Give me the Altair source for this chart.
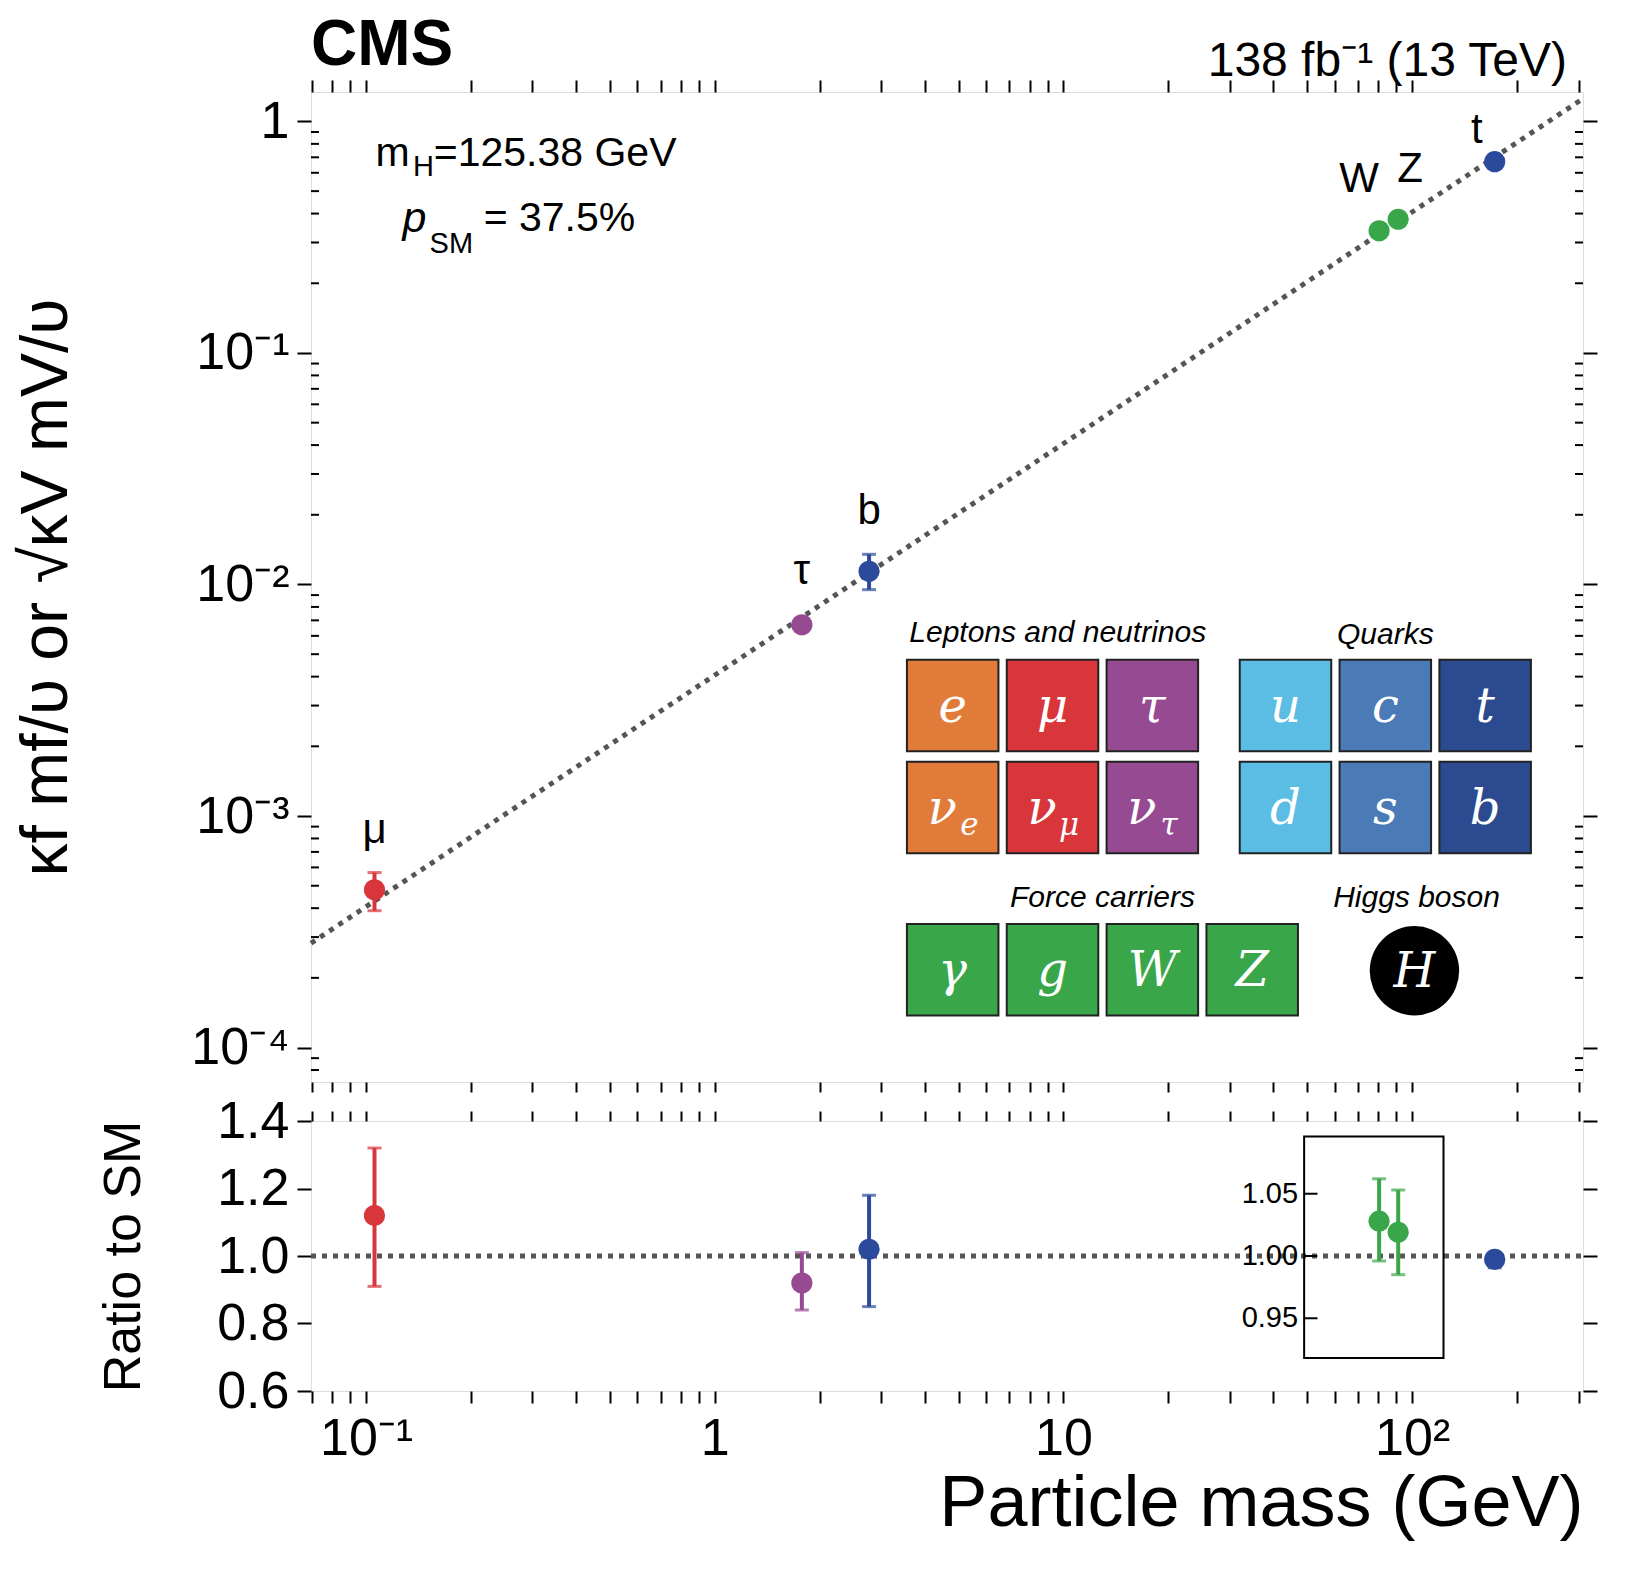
import altair as alt
import pandas as pd

V = 246.22
FONT = "Liberation Sans"
S = 1.04  # pixel scale factor for annotations

# measured points
names = ["μ", "τ", "b", "W", "Z", "t"]
mass = [0.1057, 1.777, 2.77, 80.4, 91.19, 172.5]
coupling = [4.8e-4, 6.7e-3, 0.0114, 0.337, 0.378, 0.67]
coup_lo = [3.9e-4, 6.4e-3, 0.0095, 0.332, 0.372, 0.655]
coup_hi = [5.7e-4, 7.0e-3, 0.0135, 0.343, 0.384, 0.685]
ratio = [1.12, 0.92, 1.02, 1.028, 1.019, 0.99]
ratio_lo = [0.91, 0.84, 0.85, 0.996, 0.985, 0.965]
ratio_hi = [1.32, 1.01, 1.18, 1.062, 1.053, 1.005]
inset = [False, False, False, True, True, False]
colors = ["#d8363a", "#954a91", "#2b4a9b", "#3aa64a", "#3aa64a", "#2b4a9b"]
label_dx = [0, 0, 0, -20, 12, -18]
label_dy = [-60, -54, -60, -52, -50, -32]

# SM line end points
line_mass = [0.0695, 309.0]

pts = pd.DataFrame(dict(name=names, m=mass, c=coupling, lo=coup_lo, hi=coup_hi,
                        r=ratio, rlo=ratio_lo, rhi=ratio_hi, inset=inset, col=colors))
# inset zoom: 1.00 +- 0.05 drawn over 0.185 of main ratio range
ZOOM = 3.69
pts["rp"] = [1 + (r - 1) * ZOOM if i else r for r, i in zip(pts.r, pts.inset)]
pts["rplo"] = [1 + (r - 1) * ZOOM if i else r for r, i in zip(pts.rlo, pts.inset)]
pts["rphi"] = [1 + (r - 1) * ZOOM if i else r for r, i in zip(pts.rhi, pts.inset)]

line = pd.DataFrame(dict(m=line_mass, c=[m / V for m in line_mass]))

xs = alt.Scale(type="log", domain=[0.0695, 309], nice=False)
ys = alt.Scale(type="log", domain=[7.1e-5, 1.34], nice=False)
rs = alt.Scale(domain=[0.6, 1.4], nice=False)

xlab = "datum.value==0.1?'10⁻¹':datum.value==1?'1':datum.value==10?'10':datum.value==100?'10²':''"
ylab = ("datum.value==1?'1':datum.value==0.1?'10⁻¹':datum.value==0.01?'10⁻²':"
        "datum.value==0.001?'10⁻³':datum.value==0.0001?'10⁻⁴':''")
xticks = [0.07, 0.08, 0.09, 0.1, 0.2, 0.3, 0.4, 0.5, 0.6, 0.7, 0.8, 0.9, 1, 2, 3, 4, 5, 6, 7, 8, 9,
          10, 20, 30, 40, 50, 60, 70, 80, 90, 100, 200, 300]
yticks = [1e-4, 1e-3, 1e-2, 1e-1, 1]
ymin = [k * 10.0 ** e for e in range(-5, 1) for k in range(2, 10) if 7.1e-5 < k * 10.0 ** e < 1.34]
rticks = [0.6, 0.8, 1.0, 1.2, 1.4]

W, H1, H2 = 1272, 990, 270
ax = dict(labelFont=FONT, titleFont=FONT, domain=False, tickColor="black", tickWidth=2,
          labelColor="black", titleColor="black", grid=False, titleFontWeight="normal")


def X(f, **k):
    return alt.X(f, axis=None, **k)


def Y(f, **k):
    return alt.Y(f, axis=None, **k)


C = alt.Color("col:N", scale=None)

# ---------------- top panel ----------------
base = alt.Chart(pts)
sm_line = alt.Chart(line).mark_line(color="#555", strokeWidth=5, strokeDash=[5, 6]).encode(
    x=alt.X("m:Q", scale=xs, axis=alt.Axis(values=xticks, labels=False, tickSize=10, **ax), title=None),
    y=alt.Y("c:Q", scale=ys, title="κf mf/υ  or  √κV mV/υ",
            axis=alt.Axis(values=yticks, labelExpr=ylab, labelFontSize=52, tickSize=14,
                          titleFontSize=66, titlePadding=110, labelPadding=8, **ax)))
top_mirror = alt.Chart(line).mark_point(opacity=0).encode(
    x=alt.X("m:Q", scale=xs, axis=alt.Axis(orient="top", values=xticks, labels=False, tickSize=12, **ax), title=None),
    y=alt.Y("c:Q", scale=ys, axis=alt.Axis(orient="right", values=yticks, labels=False, tickSize=14, **ax), title=None))
yminor = alt.Chart(pd.DataFrame(dict(v=ymin))).mark_rule(strokeWidth=2, color="black").encode(
    y=Y("v:Q", scale=ys), x=alt.value(0), x2=alt.value(8))
yminor_r = alt.Chart(pd.DataFrame(dict(v=ymin))).mark_rule(strokeWidth=2, color="black").encode(
    y=Y("v:Q", scale=ys), x=alt.value(W - 8), x2=alt.value(W))
err = base.mark_rule(strokeWidth=4).encode(x=X("m:Q"), y=Y("lo:Q"), y2="hi:Q", color=C)
cap_lo = base.mark_tick(thickness=3, size=14, orient="horizontal").encode(x=X("m:Q"), y=Y("lo:Q"), color=C)
cap_hi = base.mark_tick(thickness=3, size=14, orient="horizontal").encode(x=X("m:Q"), y=Y("hi:Q"), color=C)
dots = base.mark_circle(size=450, opacity=1).encode(x=X("m:Q"), y=Y("c:Q"), color=C)
lbl = [alt.Chart(pts[pts.name == n]).mark_text(font=FONT, fontSize=42, dx=dx, dy=dy, color="black").encode(
    x=X("m:Q"), y=Y("c:Q"), text="name:N")
    for n, dx, dy in zip(names, label_dx, label_dy)]

# annotations in plot-area pixels
notes = pd.DataFrame(dict(
    t=["m", "H", "=125.38 GeV", "p", "SM", " = 37.5%"],
    px=[62, 98, 118, 88, 114, 166], py=[60, 72, 60, 122, 146, 122],
    fs=[40, 28, 40, 42, 28, 40], st=["normal", "normal", "normal", "italic", "normal", "normal"]))
notes["px"] *= S
notes["py"] *= S
note_txt = [alt.Chart(notes.iloc[[i]]).mark_text(
    font=FONT, fontSize=int(notes.fs[i] * S), fontStyle=notes.st[i], align="left", color="black").encode(
    x=X("px:Q", scale=None), y=Y("py:Q", scale=None), text="t:N") for i in range(len(notes))]

# particle table
box_lab = ["e", "μ", "τ", "ν", "ν", "ν", "u", "c", "t", "d", "s", "b", "γ", "g", "W", "Z"]
box_sub = ["", "", "", "e", "μ", "τ", "", "", "", "", "", "", "", "", "", ""]
box_col = ["#e07b39", "#d8363a", "#954a91", "#e07b39", "#d8363a", "#954a91",
           "#5bbde3", "#4a7bb7", "#2b4a8f", "#5bbde3", "#4a7bb7", "#2b4a8f",
           "#3aa64a", "#3aa64a", "#3aa64a", "#3aa64a"]
box_x = [573, 669, 765, 573, 669, 765, 893, 989, 1085, 893, 989, 1085, 573, 669, 765, 861]
box_y = [546, 546, 546, 644, 644, 644, 546, 546, 546, 644, 644, 644, 800, 800, 800, 800]
boxes = pd.DataFrame(dict(lab=box_lab, sub=box_sub, col=box_col, x=box_x, y=box_y))
boxes["x2"] = boxes.x + 88
boxes["y2"] = boxes.y + 88
boxes["cx"] = boxes.x + 44
boxes["cy"] = boxes.y + 46
boxes.loc[boxes["sub"] != "", "cx"] -= 10
boxes["sx"] = boxes.x + 60
boxes["sy"] = boxes.y + 62
for k in ["x", "x2", "y", "y2", "cx", "cy", "sx", "sy"]:
    boxes[k] = boxes[k] * S
rects = alt.Chart(boxes).mark_rect(stroke="#222", strokeWidth=2).encode(
    x=X("x:Q", scale=None), x2="x2:Q", y=Y("y:Q", scale=None), y2="y2:Q", color=C)
rect_txt = alt.Chart(boxes).mark_text(font="DejaVu Serif", fontStyle="italic", fontSize=48, color="white").encode(
    x=X("cx:Q", scale=None), y=Y("cy:Q", scale=None), text="lab:N")
rect_sub = alt.Chart(boxes).mark_text(font="DejaVu Serif", fontStyle="italic", fontSize=31, color="white").encode(
    x=X("sx:Q", scale=None), y=Y("sy:Q", scale=None), text="sub:N")
hdf = pd.DataFrame(dict(x=[1061 * S], y=[845 * S], t=["H"]))
higgs = alt.Chart(hdf).mark_point(shape="circle", size=8000, filled=True, color="black", opacity=1).encode(
    x=X("x:Q", scale=None), y=Y("y:Q", scale=None))
higgs_t = alt.Chart(hdf).mark_text(font="DejaVu Serif", fontStyle="italic", fontSize=48, color="white", dy=2).encode(
    x=X("x:Q", scale=None), y=Y("y:Q", scale=None), text="t:N")
heads = pd.DataFrame(dict(t=["Leptons and neutrinos", "Quarks", "Force carriers", "Higgs boson"],
                          x=[718 * S, 1033 * S, 761 * S, 1063 * S], y=[520 * S, 522 * S, 775 * S, 775 * S]))
head_txt = alt.Chart(heads).mark_text(font=FONT, fontStyle="italic", fontSize=30, color="black").encode(
    x=X("x:Q", scale=None), y=Y("y:Q", scale=None), text="t:N")
lumi = alt.Chart(pd.DataFrame(dict(t=["138 fb⁻¹ (13 TeV)"]))).mark_text(
    font=FONT, fontSize=48, align="right", baseline="alphabetic", color="black").encode(
    x=alt.value(W - 16), y=alt.value(-16), text="t:N")

top = alt.layer(sm_line, top_mirror, yminor, yminor_r, err, cap_lo, cap_hi, dots, *lbl, *note_txt,
                rects, rect_txt, rect_sub, higgs, higgs_t, head_txt, lumi).resolve_axis(
    x="independent", y="independent").properties(
    width=W, height=H1,
    title=alt.TitleParams("CMS", anchor="start", frame="group", font=FONT, fontSize=64,
                          fontWeight="bold", offset=-40, color="black"))

# ---------------- ratio panel ----------------
one = pd.DataFrame(dict(m=line_mass, r=[1.0, 1.0]))
r_line = alt.Chart(one).mark_line(color="#555", strokeWidth=5, strokeDash=[5, 6]).encode(
    x=alt.X("m:Q", scale=xs, title="Particle mass (GeV)",
            axis=alt.Axis(values=xticks, labelExpr=xlab, labelFontSize=52, tickSize=12,
                          titleFontSize=72, titleAnchor="end", labelPadding=10, titlePadding=4, **ax)),
    y=alt.Y("r:Q", scale=rs, title="Ratio to SM",
            axis=alt.Axis(values=rticks, format=".1f", labelFontSize=52,
                          tickSize=14, titleFontSize=52, titlePadding=66, labelPadding=8, **ax)))
r_mirror = alt.Chart(one).mark_point(opacity=0).encode(
    x=alt.X("m:Q", scale=xs, axis=alt.Axis(orient="top", values=xticks, labels=False, tickSize=10, **ax), title=None),
    y=alt.Y("r:Q", scale=rs, axis=alt.Axis(orient="right", values=rticks, labels=False, tickSize=14, **ax), title=None))
rb = alt.Chart(pts)
r_err = rb.mark_rule(strokeWidth=4).encode(x=X("m:Q"), y=Y("rplo:Q"), y2="rphi:Q", color=C)
r_clo = rb.mark_tick(thickness=3, size=14, orient="horizontal").encode(x=X("m:Q"), y=Y("rplo:Q"), color=C)
r_chi = rb.mark_tick(thickness=3, size=14, orient="horizontal").encode(x=X("m:Q"), y=Y("rphi:Q"), color=C)
r_dot = rb.mark_circle(size=450, opacity=1).encode(x=X("m:Q"), y=Y("rp:Q"), color=C)

# inset frame and its axis
inset_box = alt.Chart(pd.DataFrame(dict(x=[49], x2=[123], y=[0.698], y2=[1.354]))).mark_rect(
    fill="white", fillOpacity=0, stroke="black", strokeWidth=2).encode(
    x=X("x:Q", scale=xs), x2="x2:Q", y=Y("y:Q", scale=rs), y2="y2:Q")
inset_vals = [0.95, 1.00, 1.05]
inset_df = pd.DataFrame(dict(v=inset_vals, t=["0.95", "1.00", "1.05"], x=[49] * 3, x2=[53.5] * 3))
inset_df["yp"] = 1 + (inset_df.v - 1) * ZOOM
inset_lab = alt.Chart(inset_df).mark_text(font=FONT, fontSize=29, align="right", dx=-6, color="black").encode(
    x=X("x:Q", scale=xs), y=Y("yp:Q", scale=rs), text="t:N")
inset_tk = alt.Chart(inset_df).mark_rule(strokeWidth=2, color="black").encode(
    x=X("x:Q", scale=xs), x2="x2:Q", y=Y("yp:Q", scale=rs))

bottom = alt.layer(r_line, r_mirror, inset_box, inset_tk, inset_lab, r_err, r_clo, r_chi, r_dot).resolve_axis(
    x="independent", y="independent").properties(width=W, height=H2)

chart = alt.vconcat(top, bottom, spacing=0).configure_view(
    stroke="black", strokeWidth=2).configure(background="white")

chart.save("out.html", embed_options={"renderer": "svg", "actions": False})
